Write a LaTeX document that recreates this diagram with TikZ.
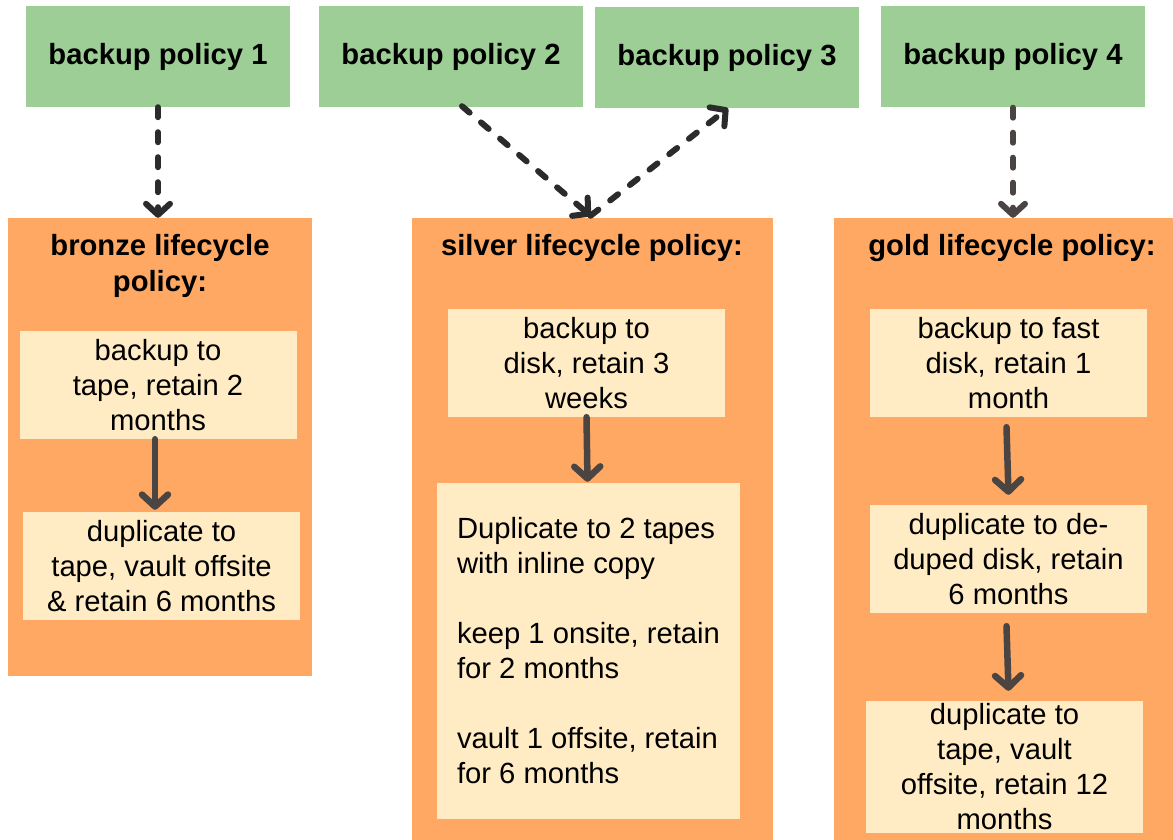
\documentclass[tikz,border=0pt]{standalone}
\usepackage{fontspec}
\setmainfont{Liberation Sans}
\usetikzlibrary{arrows.meta,calc}
\definecolor{grn}{RGB}{157,206,149}
\definecolor{org}{RGB}{255,168,99}
\definecolor{crm}{RGB}{255,236,197}
\definecolor{dk}{RGB}{43,43,43}
\definecolor{dkb}{RGB}{74,69,66}
\begin{document}
\begin{tikzpicture}[x=1pt,y=-1pt,
  txt/.style={font=\fontsize{29.2}{35}\selectfont, text=black, align=center, inner sep=0pt},
  policy/.style={txt, font=\fontsize{29.2}{35}\selectfont\bfseries, fill=grn, minimum width=264pt, minimum height=101pt},
  lifebox/.style={fill=org, inner sep=0pt},
  ttl/.style={txt, font=\fontsize{29.2}{36}\selectfont\bfseries},
  stepbox/.style={txt, fill=crm, minimum width=277pt, minimum height=108pt},
  dasharrow/.style={draw=dk, line width=6pt, dash pattern=on 10pt off 15pt, line cap=round,
     -{Straight Barb[length=11pt,width=24pt,round]}},
  solidarrow/.style={draw=dkb, line width=6.5pt, line cap=round,
     -{Straight Barb[length=12pt,width=26pt,round]}}
]
\useasboundingbox (0,0) rectangle (1173,840);
\fill[white] (0,0) rectangle (1173,840);

% top policies
\node[policy] (bp1) at (158,56.5) {backup policy 1};
\node[policy] (bp2) at (451,56.5) {backup policy 2};
\node[policy] (bp3) at (727,57.5) {backup policy 3};
\node[policy] (bp4) at (1013,57) {backup policy 4};

% lifecycle boxes
\node[lifebox, minimum width=304pt, minimum height=458pt] (bronze) at (160,447) {};
\node[lifebox, minimum width=361pt, minimum height=624pt] (silver) at (592.5,530) {};
\node[lifebox, minimum width=339pt, minimum height=624pt] (gold) at (1003.5,530) {};

\node[ttl] (tb) at (160,266) {bronze lifecycle\\policy:};
\node[ttl] (ts) at (592,248) {silver lifecycle policy:};
\node[ttl] (tg) at (1012,248) {gold lifecycle policy:};

% bronze steps
\node[stepbox] (b1) at (158,385) {backup to\\tape, retain 2\\months};
\node[stepbox] (b2) at (161.5,566) {duplicate to\\tape, vault offsite\\\& retain 6 months};

% silver steps
\node[stepbox] (s1) at (586.5,363) {backup to\\disk, retain 3\\weeks};
\node[stepbox, align=left, minimum width=303pt, minimum height=336pt] (s2) at (588.5,651)
  {Duplicate to 2 tapes\\with inline copy\\[35pt]keep 1 onsite, retain\\for 2 months\\[35pt]vault 1 offsite, retain\\for 6 months};

% gold steps
\node[stepbox] (g1) at (1008.5,363) {backup to fast\\disk, retain 1\\month};
\node[stepbox] (g2) at (1008.5,559) {duplicate to de-\\duped disk, retain\\6 months};
\node[stepbox, minimum height=132pt] (g3) at (1004.5,767) {duplicate to\\tape, vault\\offsite, retain 12\\months};

% dashed connectors
\draw[dasharrow] (bp1.south) -- (bp1.south |- bronze.north);
\draw[dasharrow] ($(bp2.south)+(11,-1)$) -- ($(silver.north)+(-2,-2)$);
\draw[dasharrow] ($(silver.north)+(-2,-2)$) -- ($(bp3.south)+(1,0)$);
\draw[dasharrow, draw=dkb] (bp4.south) -- (bp4.south |- gold.north);

% solid connectors
\draw[solidarrow] ($(b1.south)+(-3,0)$) -- ($(b1.south |- b2.north)+(-3,-2)$);
\draw[solidarrow] (s1.south) -- ($(s1.south |- s2.north)+(1,-1)$);
\draw[solidarrow] ($(g1.south)+(-2,10)$) -- ($(g1.south |- g2.north)+(0,-10)$);
\draw[solidarrow] ($(g2.south)+(-2,13)$) -- ($(g2.south |- g3.north)+(0,-10)$);
\end{tikzpicture}
\end{document}
